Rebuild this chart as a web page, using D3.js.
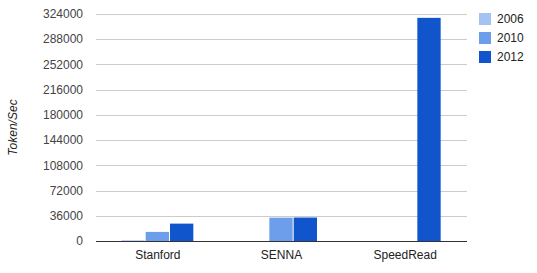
<!DOCTYPE html>
<html>
<head>
<meta charset="utf-8">
<script src="https://cdn.jsdelivr.net/npm/d3@7"></script>
<style>
  body { margin: 0; background: #fff; }
  text { font-family: "Liberation Sans", Arial, sans-serif; }
</style>
</head>
<body>
<div id="container"></div>
<script>
// chart data
var categories = ["Stanford", "SENNA", "SpeedRead"]
var years = ["2006", "2010", "2012"]
var values2006 = [1000, 0, 0]
var values2010 = [13000, 33300, 0]
var values2012 = [24800, 33500, 318500]
var yTicks = [0, 36000, 72000, 108000, 144000, 180000, 216000, 252000, 288000, 324000]
var colors = ["#a4c2f4", "#6d9eeb", "#1155cc"]

var series = [values2006, values2010, values2012]

// define dimensions
var width = 537
var height = 273
var margin = { left: 96, right: 70, top: 14, bottom: 32 }

var svg = d3.select("#container")
    .append("svg")
    .attr("width", width)
    .attr("height", height)

var x = d3.scaleBand()
    .domain(categories)
    .range([margin.left, width - margin.right])

var xInner = d3.scaleBand()
    .domain(years)
    .range([0, 73])

var y = d3.scaleLinear()
    .domain([0, 324000])
    .range([height - margin.bottom, margin.top])

// gridlines
svg.append("g")
    .selectAll("line")
    .data(yTicks)
    .enter()
    .append("line")
    .attr("x1", margin.left)
    .attr("x2", width - margin.right)
    .attr("y1", function(d) { return Math.round(y(d)) + 0.5 })
    .attr("y2", function(d) { return Math.round(y(d)) + 0.5 })
    .attr("stroke", function(d) { return d == 0 ? "#333" : "#ccc" })
    .attr("stroke-width", 1)

// tick labels
svg.append("g")
    .selectAll("text")
    .data(yTicks)
    .enter()
    .append("text")
    .attr("x", margin.left - 13)
    .attr("y", function(d) { return y(d) })
    .attr("dy", "0.35em")
    .attr("text-anchor", "end")
    .attr("font-size", 12)
    .attr("fill", "#444")
    .text(function(d) { return d })

// bars
var groups = svg.append("g")
    .selectAll("g")
    .data(categories)
    .enter()
    .append("g")
    .attr("transform", function(d) { return "translate(" + (x(d) + x.bandwidth() / 2 - 36.5) + ",0)" })

groups.selectAll("rect")
    .data(function(d, i) { return years.map(function(yr, j) { return { year: yr, value: series[j][i], k: j } }) })
    .enter()
    .append("rect")
    .attr("x", function(d) { return xInner(d.year) })
    .attr("width", xInner.bandwidth() - 1)
    .attr("y", function(d) { return y(d.value) })
    .attr("height", function(d) { return y(0) - y(d.value) })
    .attr("fill", function(d) { return colors[d.k] })

// redraw baseline on top
svg.append("line")
    .attr("x1", margin.left)
    .attr("x2", width - margin.right)
    .attr("y1", Math.round(y(0)) + 0.5)
    .attr("y2", Math.round(y(0)) + 0.5)
    .attr("stroke", "#333")

// category labels
svg.append("g")
    .selectAll("text")
    .data(categories)
    .enter()
    .append("text")
    .attr("x", function(d) { return x(d) + x.bandwidth() / 2 })
    .attr("y", 259)
    .attr("text-anchor", "middle")
    .attr("font-size", 12)
    .attr("fill", "#222")
    .text(function(d) { return d })

// y axis title
svg.append("text")
    .attr("transform", "translate(17," + (margin.top + (height - margin.bottom - margin.top) / 2) + ") rotate(-90)")
    .attr("text-anchor", "middle")
    .attr("font-size", 12)
    .attr("font-style", "italic")
    .attr("fill", "#222")
    .text("Token/Sec")

// legend
var legend = svg.append("g")
    .selectAll("g")
    .data(years)
    .enter()
    .append("g")
    .attr("transform", function(d, i) { return "translate(479," + (13 + i * 19) + ")" })

legend.append("rect")
    .attr("width", 12)
    .attr("height", 12)
    .attr("fill", function(d, i) { return colors[i] })

legend.append("text")
    .attr("x", 18)
    .attr("y", 6)
    .attr("dy", "0.35em")
    .attr("font-size", 12)
    .attr("fill", "#222")
    .text(function(d) { return d })
</script>
</body>
</html>
